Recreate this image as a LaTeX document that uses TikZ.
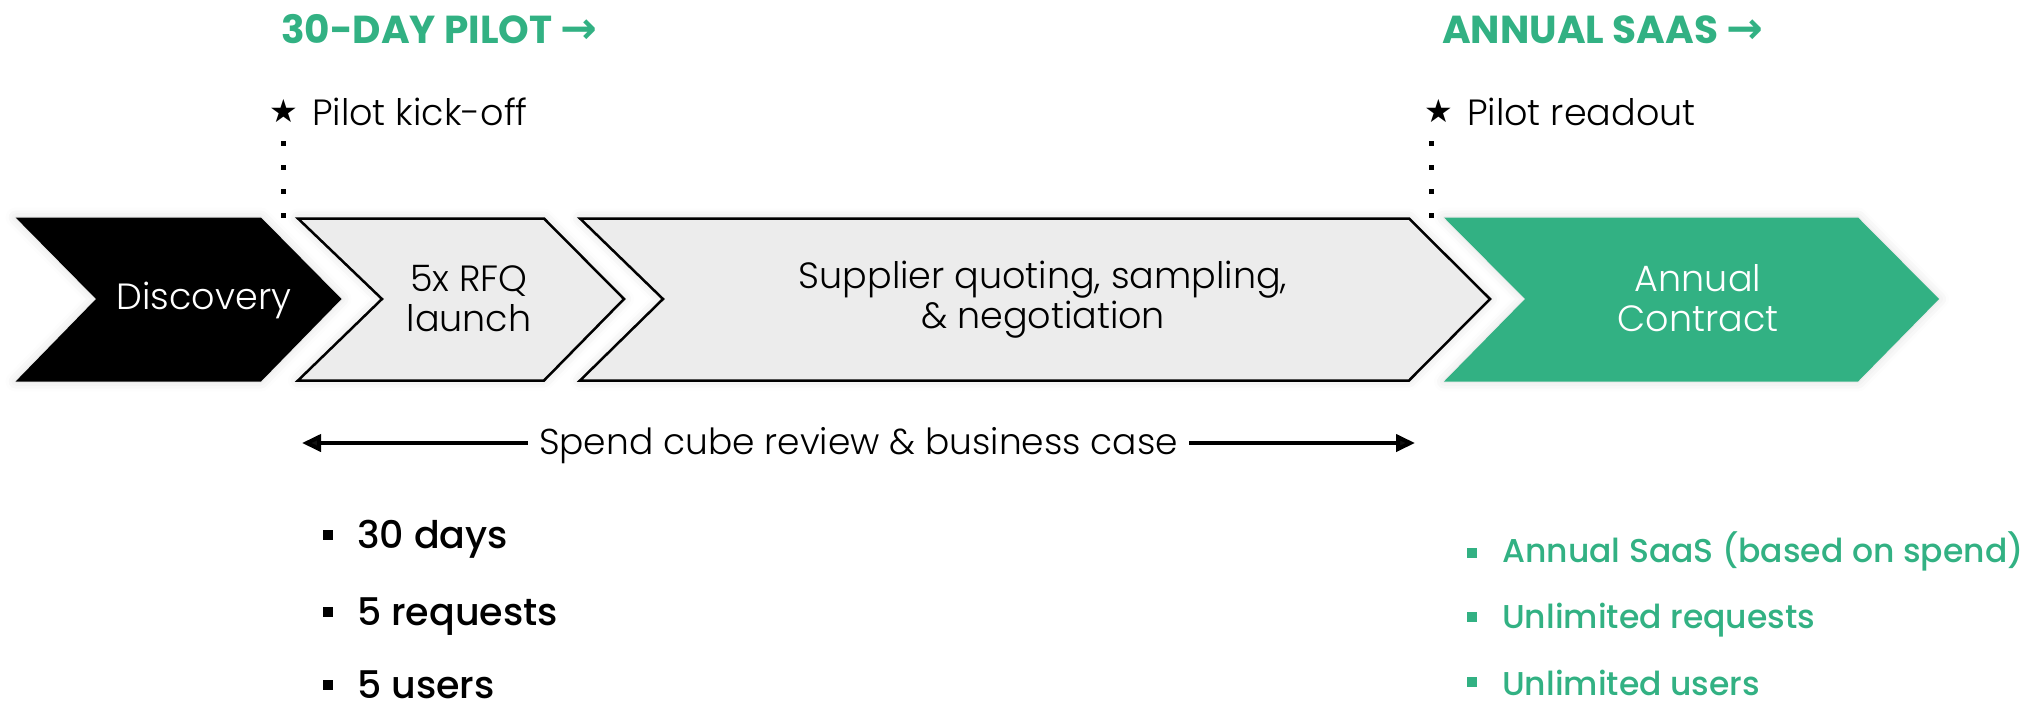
\documentclass[tikz,border=0pt]{standalone}
\usepackage{fontspec}
\setmainfont{Poppins}
\newfontfamily\plight{Poppins Light}
\newfontfamily\pmed{Poppins Medium}
\newfontfamily\pbold{Poppins Bold}
\newfontfamily\dejavu{DejaVu Sans}
\usetikzlibrary{arrows.meta,shadows.blur}
\definecolor{brandgreen}{HTML}{32B183}
\definecolor{chevgray}{HTML}{ECECEC}
\begin{document}
\begin{tikzpicture}[x=1pt,y=-1pt,
  chevtext/.style={font=\plight\fontsize{36.5}{40}\selectfont, align=center, inner sep=0pt},
  header/.style={font=\pbold\fontsize{39}{40}\selectfont, text=brandgreen, anchor=base west, inner sep=0pt},
  headarrow/.style={font=\dejavu\bfseries\fontsize{44}{44}\selectfont},
  milestone/.style={font=\plight\fontsize{36.5}{40}\selectfont, anchor=base west, inner sep=0pt},
  startag/.style={font=\dejavu\fontsize{32}{32}\selectfont, inner sep=0pt},
  dotline/.style={line width=5pt, dash pattern=on 5pt off 19pt},
  bulletleft/.style={font=\pmed\fontsize{38}{38}\selectfont, anchor=base west, inner sep=0pt},
  bulletright/.style={font=\pmed\fontsize{33}{33}\selectfont, anchor=base west, inner sep=0pt, text=brandgreen},
  bulletsq/.style={fill, minimum size=10.5pt, inner sep=0pt},
  glow/.style={blur shadow={shadow xshift=0pt, shadow yshift=0pt, shadow blur radius=10pt, shadow opacity=14}},
]
\useasboundingbox (0,0) rectangle (2037,707);

% headers
\node[header] (h1) at (281,43) {30-DAY PILOT {\dejavu\bfseries\fontsize{44}{44}\selectfont →}};
\node[header] (h2) at (1442,43) {ANNUAL SAAS {\dejavu\bfseries\fontsize{44}{44}\selectfont →}};

% milestones
\node[startag] (s1) at (284,111) {★};
\node[milestone] (m1) at (312,125) {Pilot kick-off};
\node[startag] (s2) at (1439,111) {★};
\node[milestone] (m2) at (1467,125) {Pilot readout};
\coordinate (d1a) at (283,141);
\coordinate (d1b) at (283,218);
\coordinate (d2a) at (1431,141);
\coordinate (d2b) at (1431,218);
\draw[dotline] (d1a) -- (d1b);
\draw[dotline] (d2a) -- (d2b);

% chevrons
\path[fill=black, glow] (15.6,217.5) -- (261,217.5) -- (341.5,299) -- (261,381.5) -- (15.6,381.5) -- (96,299) -- cycle;
\path[fill=chevgray, draw=black, line width=2.5pt, line join=miter, glow] (298,218.5) -- (544,218.5) -- (624,299) -- (544,380.5) -- (298,380.5) -- (382,299) -- cycle;
\path[fill=chevgray, draw=black, line width=2.5pt, line join=miter, glow] (580,218.5) -- (1409,218.5) -- (1490,299) -- (1409,380.5) -- (580,380.5) -- (663,299) -- cycle;
\path[fill=brandgreen, glow] (1444,217.5) -- (1858,217.5) -- (1939,299) -- (1858,381.5) -- (1444,381.5) -- (1525,299) -- cycle;

\node[chevtext, text=white] (c1) at (204,300) {Discovery};
\node[chevtext] (c2) at (469,299) {5x RFQ\\launch};
\node[chevtext] (c3) at (1043,300) {Supplier quoting, sampling,\\\& negotiation};
\node[chevtext, text=white] (c4) at (1698,298) {Annual\\Contract};

% span arrow
\coordinate (aL) at (302,443);
\coordinate (aR) at (1415,443);
\draw[line width=4pt, {Triangle[length=19pt,width=17pt]}-{Triangle[length=19pt,width=17pt]}] (aL) -- node[fill=white, inner xsep=11pt, inner ysep=2pt, yshift=-3pt, font=\plight\fontsize{36}{36}\selectfont] (span) {Spend cube review \& business case} (aR);

% bullets left
\node[bulletsq] (b1) at (328,535) {};
\node[bulletleft] (t1) at (357,548) {30 days};
\node[bulletsq] (b2) at (328,612) {};
\node[bulletleft] (t2) at (357,625) {5 requests};
\node[bulletsq] (b3) at (328,685) {};
\node[bulletleft] (t3) at (357,698) {5 users};

% bullets right
\node[bulletsq, fill=brandgreen] (g1) at (1472,553) {};
\node[bulletright] (u1) at (1502,562) {Annual SaaS (based on spend)};
\node[bulletsq, fill=brandgreen] (g2) at (1472,617) {};
\node[bulletright] (u2) at (1502,628) {Unlimited requests};
\node[bulletsq, fill=brandgreen] (g3) at (1472,682) {};
\node[bulletright] (u3) at (1502,695) {Unlimited users};
\end{tikzpicture}
\end{document}
